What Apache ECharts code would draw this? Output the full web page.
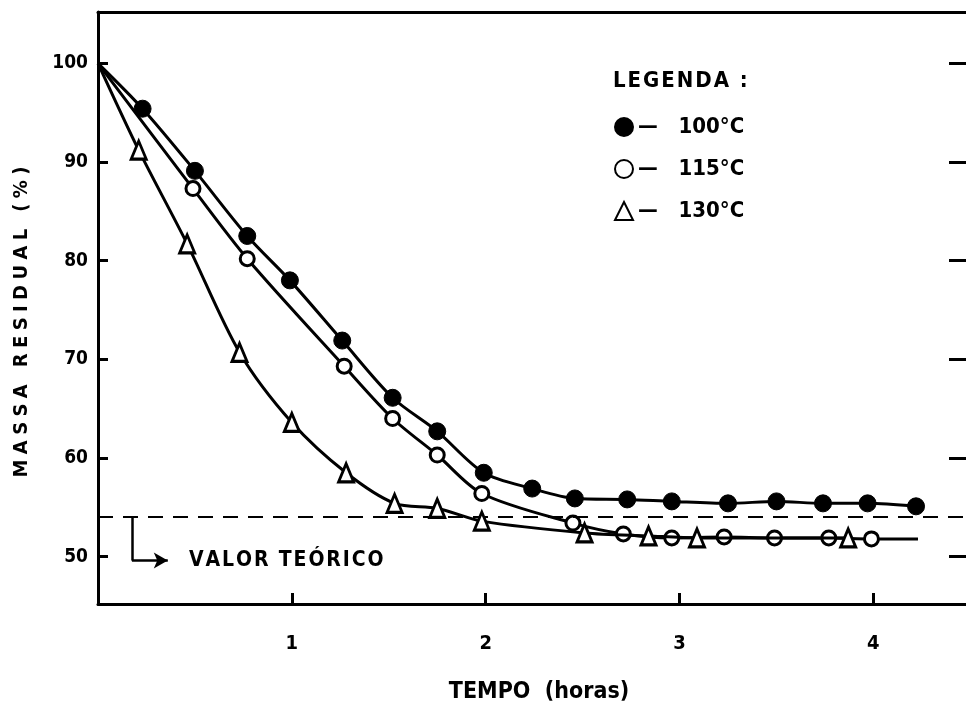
<!DOCTYPE html>
<html><head><meta charset="utf-8">
<script src="https://cdn.jsdelivr.net/npm/echarts@6/dist/echarts.min.js"></script>
<style>html,body{margin:0;padding:0;background:#fff}#c{width:966px;height:707px}</style>
</head><body><div id="c"></div>
<script>
const FONT = "'DejaVu Sans Condensed','Liberation Sans Narrow','DejaVu Sans',sans-serif";
const seriesNames = ['100°C', '115°C', '130°C'];
const t100 = [0, 0.23, 0.50, 0.77, 0.99, 1.26, 1.52, 1.75, 1.99, 2.24, 2.46, 2.73, 2.96, 3.25, 3.50, 3.74, 3.97, 4.22];
const m100 = [100, 95.4, 89.1, 82.5, 78.0, 71.9, 66.1, 62.7, 58.5, 56.9, 55.9, 55.8, 55.6, 55.4, 55.6, 55.4, 55.4, 55.1];
const t115 = [0, 0.49, 0.77, 1.27, 1.52, 1.75, 1.98, 2.45, 2.71, 2.96, 3.23, 3.49, 3.77, 3.99, 4.23];
const m115 = [100, 87.3, 80.2, 69.3, 64.0, 60.3, 56.4, 53.4, 52.3, 51.9, 52.0, 51.9, 51.9, 51.8, 51.8];
const t130 = [0, 0.21, 0.46, 0.73, 1.00, 1.28, 1.53, 1.75, 1.98, 2.51, 2.84, 3.09, 3.87];
const m130 = [100, 91.2, 81.7, 70.7, 63.6, 58.5, 55.4, 54.9, 53.6, 52.4, 52.1, 51.9, 51.9];
const xTicks = [1, 2, 3, 4];
const yTicks = [50, 60, 70, 80, 90, 100];
const theoretical = 54;
const annotX = [0.175, 0.36];
const annotY = [54, 49.6];
const annotTextX = 0.47;
const annotText = 'VALOR TEÓRICO';

function build(ts, ms, noMarkerLast) {
  return ts.map((t, i) => {
    const item = { value: [t, ms[i]] };
    if (i === 0 || (noMarkerLast && i === ts.length - 1)) item.symbol = 'none';
    return item;
  });
}
function spaced(s, sep) { return s.split('').join(sep); }
const txt = { fontFamily: FONT, fontWeight: 'bold', color: '#000' };
const chart = echarts.init(document.getElementById('c'));
chart.setOption({
  animation: false,
  backgroundColor: '#fff',
  grid: { left: 98, right: -14, top: 12, bottom: 103, outerBoundsMode: 'none' },
  xAxis: [{
    type: 'value', min: 0, max: 4.55, position: 'bottom',
    name: 'TEMPO  (horas)', nameLocation: 'middle', nameGap: 77,
    nameTextStyle: Object.assign({ fontSize: 23 }, txt),
    axisLine: { onZero: false, lineStyle: { color: '#000', width: 3 } },
    axisTick: { inside: true, length: 11, lineStyle: { color: '#000', width: 3 }, customValues: xTicks },
    axisLabel: Object.assign({ fontSize: 20, margin: 30, customValues: xTicks }, txt),
    splitLine: { show: false }
  }, {
    type: 'value', min: 0, max: 4.55, position: 'top',
    axisLine: { show: true, onZero: false, lineStyle: { color: '#000', width: 3 } },
    axisTick: { show: false }, axisLabel: { show: false }, splitLine: { show: false }
  }],
  yAxis: [{
    type: 'value', min: 45.2, max: 105.2, position: 'left',
    name: spaced('MASSA RESIDUAL (%)', '\u2009\u200A'), nameLocation: 'middle', nameGap: 66, nameRotate: 90,
    nameTextStyle: Object.assign({ fontSize: 20, padding: [0, 28, 0, 0] }, txt),
    axisLine: { show: true, onZero: false, lineStyle: { color: '#000', width: 3 } },
    axisTick: { show: true, inside: true, length: 10, lineStyle: { color: '#000', width: 3 }, customValues: yTicks },
    axisLabel: Object.assign({ fontSize: 19, margin: 10, customValues: yTicks }, txt),
    splitLine: { show: false }
  }, {
    type: 'value', min: 45.2, max: 105.2, position: 'right',
    axisLine: { show: false, onZero: false },
    axisTick: { show: true, inside: true, length: 31, lineStyle: { color: '#000', width: 3 }, customValues: yTicks },
    axisLabel: { show: false }, splitLine: { show: false }
  }],
  legend: {
    orient: 'vertical', left: 609, top: 111, itemGap: 20, itemWidth: 18, itemHeight: 18,
    textStyle: Object.assign({ fontSize: 22 }, txt),
    formatter: n => '—   ' + n,
    data: [
      { name: seriesNames[0], icon: 'circle' },
      { name: seriesNames[1], icon: 'circle' },
      { name: seriesNames[2], icon: 'triangle' }
    ]
  },
  graphic: [{
    type: 'text', left: 613, top: 70,
    style: { text: spaced('LEGENDA :', '\u200A'), font: 'bold 22px ' + FONT, fill: '#000' }
  }],
  series: [{
    name: seriesNames[0], type: 'line', smooth: 0.3,
    data: build(t100, m100, false),
    symbol: 'circle', symbolSize: 17,
    lineStyle: { color: '#000', width: 3 },
    itemStyle: { color: '#000', borderColor: '#000', borderWidth: 1 },
    markLine: {
      silent: true, symbol: 'none', label: { show: false },
      lineStyle: { color: '#000', width: 2, type: [15, 10] },
      data: [{ yAxis: theoretical }]
    },
    z: 3
  }, {
    name: seriesNames[1], type: 'line', smooth: 0.3,
    data: build(t115, m115, true),
    symbol: 'circle', symbolSize: 14,
    lineStyle: { color: '#000', width: 3 },
    itemStyle: { color: '#fff', borderColor: '#000', borderWidth: 3 },
    z: 4
  }, {
    name: seriesNames[2], type: 'line', smooth: 0.3,
    data: build(t130, m130, false),
    symbol: 'triangle', symbolSize: [15, 18],
    lineStyle: { color: '#000', width: 3 },
    itemStyle: { color: '#fff', borderColor: '#000', borderWidth: 3 },
    markLine: {
      silent: true, label: { show: false },
      lineStyle: { color: '#000', width: 2.5, type: 'solid' },
      data: [
        [{ coord: [annotX[0], annotY[0]], symbol: 'none' }, { coord: [annotX[0], annotY[1]], symbol: 'none' }],
        [{ coord: [annotX[0], annotY[1]], symbol: 'none' }, { coord: [annotX[1], annotY[1]], symbol: 'arrow', symbolSize: [12, 14] }]
      ]
    },
    markPoint: {
      silent: true, symbol: 'circle', symbolSize: 0,
      data: [{ coord: [annotTextX, annotY[1]], label: Object.assign({ show: true, position: 'right', distance: 0, formatter: spaced(annotText, '\u200A'), fontSize: 21 }, txt) }]
    },
    z: 5
  }]
});
</script></body></html>
